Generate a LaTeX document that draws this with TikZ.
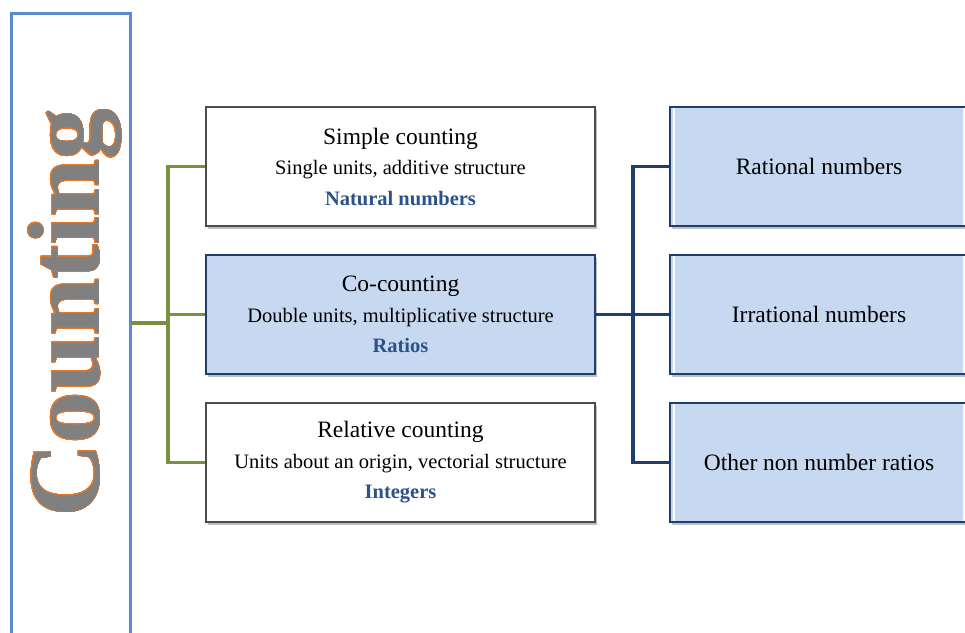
\documentclass[tikz,border=0pt]{standalone}
\usepackage{fontspec}
\setmainfont{Liberation Serif}
\usepackage[copies]{contour}
\usepackage{tikz}
\usetikzlibrary{shadows}
\definecolor{branchgreen}{RGB}{118,146,60}
\definecolor{navyline}{RGB}{31,62,108}
\definecolor{paleblue}{RGB}{198,217,241}
\definecolor{nameblue}{RGB}{44,82,140}
\definecolor{frameblue}{RGB}{91,139,201}
\definecolor{rimorange}{RGB}{228,120,40}
\contourlength{0.8pt}
\contournumber{32}

\begin{document}
\begin{tikzpicture}[x = 1pt , y = -1pt ,
    whitebox/.style = {draw = black!70 , line width = 1.5pt , fill = white , minimum width = 389pt , minimum height = 119pt , align = center , font = \fontsize{20.5}{30.5}\selectfont , drop shadow = {shadow xshift = 2pt , shadow yshift = -2.5pt , opacity = .5}},
    bluebox/.style = {whitebox , draw = navyline , line width = 2.8pt , fill = paleblue},
    numbox/.style = {bluebox , minimum width = 298pt , font = \fontsize{23.5}{28}\selectfont ,
        path picture = {\draw[white , line width = 2.5pt , opacity = .9] ([xshift = 4pt]path picture bounding box.north west) -- ([xshift = 4pt]path picture bounding box.south west);
                        \draw[white , line width = 2.5pt , opacity = .9] ([xshift = -4pt]path picture bounding box.north east) -- ([xshift = -4pt]path picture bounding box.south east);}},
    greenline/.style = {draw = branchgreen , line width = 3.2pt},
    navyjoin/.style = {draw = navyline , line width = 3.2pt}]
    \useasboundingbox (0,0) rectangle (965,632);
    \clip (0,0) rectangle (965,632);

    % left frame with the title
    \node[draw = frameblue , line width = 2.6pt , fill = white , minimum width = 119pt , minimum height = 640pt , anchor = north west] (frame) at (10,12) {};
    \node[rotate = 90 , anchor = base , inner sep = 0pt , font = \fontsize{102}{110}\selectfont\bfseries] (counting) at (99,313) {\contour{rimorange}{\textcolor{black!50}{Counting}}};

    % the three kinds of counting
    \node[whitebox] (simple) at (400.5,166.5) {{\fontsize{23.5}{30.5}\selectfont Simple counting}\\ Single units, additive structure\\ \textcolor{nameblue}{\bfseries Natural numbers}};
    \node[bluebox] (cocount) at (400.5,314.5) {{\fontsize{23.5}{30.5}\selectfont Co-counting}\\ Double units, multiplicative structure\\ \textcolor{nameblue}{\bfseries Ratios}};
    \node[whitebox] (relative) at (400.5,462.5) {{\fontsize{23.5}{30.5}\selectfont Relative counting}\\ Units about an origin, vectorial structure\\ \textcolor{nameblue}{\bfseries Integers}};

    % kinds of ratios
    \node[numbox] (rational) at (819,166.5) {Rational numbers};
    \node[numbox] (irrational) at (819,314.5) {Irrational numbers};
    \node[numbox] (other) at (819,462.5) {Other non number ratios};

    % connectors
    \coordinate (gsplit) at (168,323);
    \coordinate (bsplit) at (633,314.5);
    \draw[greenline] (frame.east |- gsplit) -- (gsplit);
    \draw[greenline] (simple.west) -| (gsplit |- cocount) |- (relative.west);
    \draw[greenline] (gsplit |- cocount) -- (cocount.west);
    \draw[navyjoin] (cocount.east) -- (bsplit);
    \draw[navyjoin] (rational.west) -| (bsplit) |- (other.west);
    \draw[navyjoin] (bsplit) -- (irrational.west);
\end{tikzpicture}
\end{document}
